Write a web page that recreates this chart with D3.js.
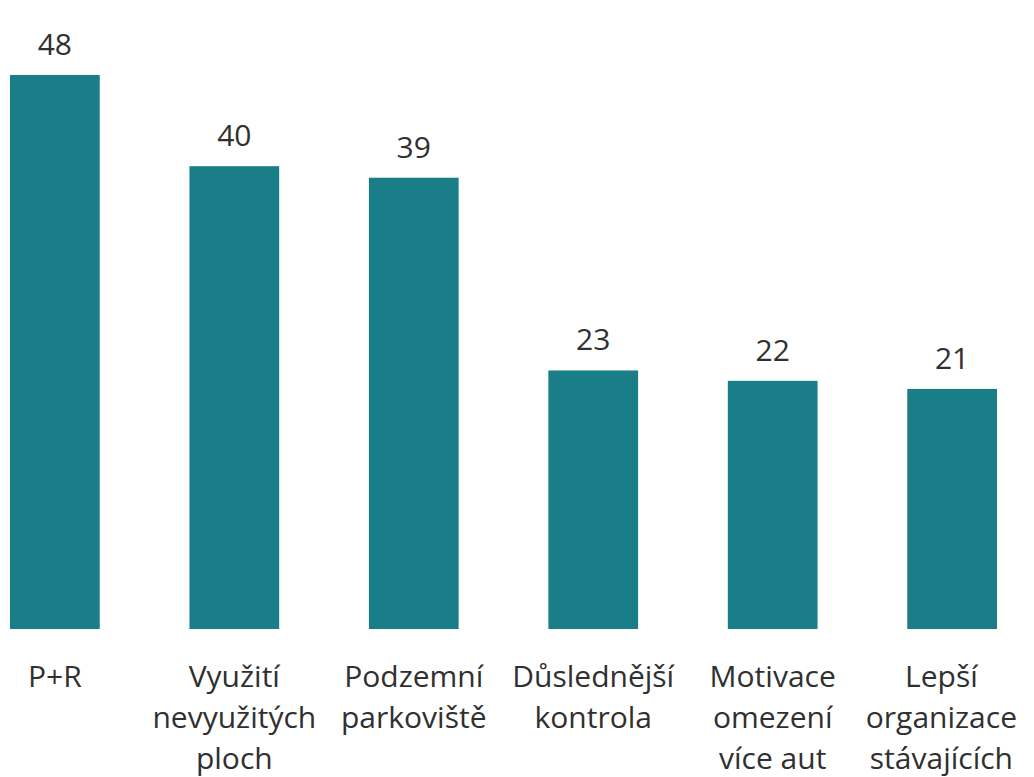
<!DOCTYPE html>
<html>
<head>
<meta charset="utf-8">
<script src="https://cdn.jsdelivr.net/npm/d3@7"></script>
<style>
  html, body { margin: 0; padding: 0; background: #ffffff; overflow: hidden; }
  svg { display: block; }
  text { font-family: "Open Sans", "Noto Sans", sans-serif; fill: #303030; }
</style>
</head>
<body>
<svg id="chart" width="1034" height="777"></svg>
<script>
const categories = [
  ["P+R"],
  ["Využití", "nevyužitých", "ploch"],
  ["Podzemní", "parkoviště"],
  ["Důslednější", "kontrola"],
  ["Motivace", "omezení", "více aut"],
  ["Lepší", "organizace", "stávajících"]
];
const values = [48, 40.1, 39.1, 22.4, 21.5, 20.8];
const valueLabels = ["48", "40", "39", "23", "22", "21"];

const width = 1034, height = 777;
const svg = d3.select("#chart");

const x = d3.scaleBand()
  .domain(d3.range(categories.length))
  .range([10, 997])
  .paddingInner(0.5)
  .paddingOuter(0);

const y = d3.scaleLinear()
  .domain([0, 48])
  .range([629, 75]);

svg.selectAll("rect.bar")
  .data(values)
  .join("rect")
  .attr("class", "bar")
  .attr("x", (d, i) => x(i))
  .attr("y", d => y(d))
  .attr("width", x.bandwidth())
  .attr("height", d => y(0) - y(d))
  .attr("fill", "#1a7e88");

svg.selectAll("text.val")
  .data(values)
  .join("text")
  .attr("class", "val")
  .attr("x", (d, i) => x(i) + x.bandwidth() / 2)
  .attr("y", d => y(d) - 20)
  .attr("text-anchor", "middle")
  .style("font-size", "30px")
  .text((d, i) => valueLabels[i]);

const labelG = svg.selectAll("g.cat")
  .data(categories)
  .join("g")
  .attr("class", "cat");

labelG.each(function(lines, i) {
  const g = d3.select(this);
  const cx = x(i) + x.bandwidth() / 2;
  const t = g.append("text")
    .attr("text-anchor", "middle")
    .style("font-size", "30px");
  lines.forEach((ln, k) => {
    t.append("tspan")
      .attr("x", cx)
      .attr("y", 687 + k * 41)
      .text(ln);
  });
  const bb = t.node().getBBox();
  const maxRight = 1017;
  if (bb.x + bb.width > maxRight) {
    const shift = bb.x + bb.width - maxRight;
    t.selectAll("tspan").attr("x", cx - shift);
  }
});
</script>
</body>
</html>
